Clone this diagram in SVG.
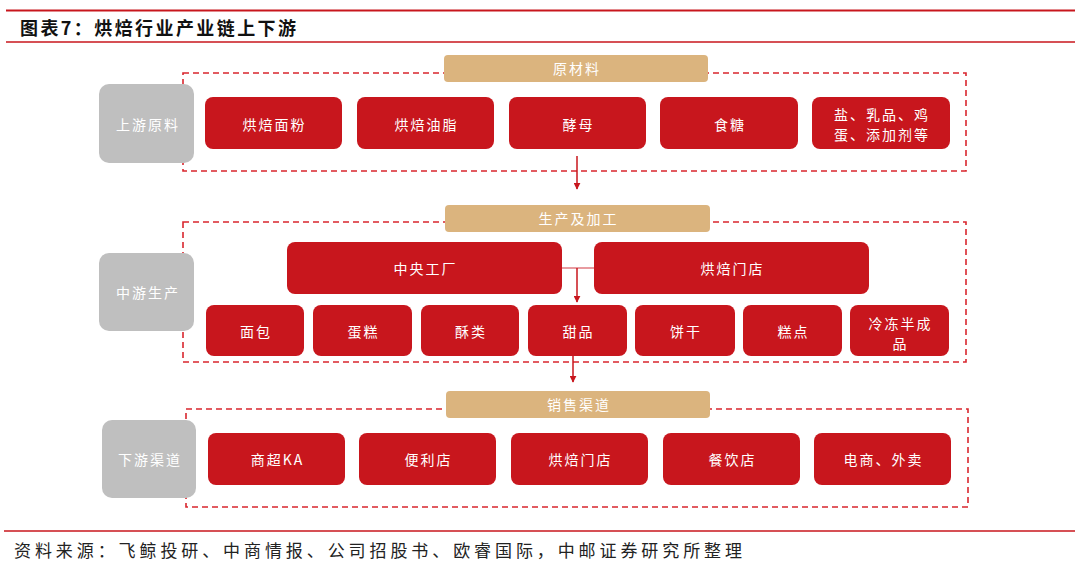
<svg xmlns="http://www.w3.org/2000/svg" width="1080" height="573" viewBox="0 0 1080 573">
<defs>
<style>
.rule{stroke:#C8161D;fill:none}
.frame{fill:none;stroke:#D9262E;stroke-width:1.6;stroke-dasharray:6 4}
.red{fill:#C8161D}
.gray{fill:#BFBFBF}
.tan{fill:#DBB47E}
.t{font-family:"Noto Sans CJK SC","Noto Sans",sans-serif;font-size:14px;fill:#FFFFFF;text-anchor:middle;letter-spacing:2px}
.conn{stroke:#C8161D;stroke-width:1.5;fill:none}
.title{font-family:"Noto Sans CJK SC","Noto Sans",sans-serif;font-size:18px;font-weight:bold;fill:#111111}
.src{font-family:"Noto Sans CJK SC","Noto Sans",sans-serif;font-size:17px;fill:#222222}
</style>
<marker id="ah" viewBox="0 0 10 10" refX="9" refY="5" markerWidth="7" markerHeight="7" markerUnits="userSpaceOnUse" orient="auto">
<path d="M0,0 L10,5 L0,10 z" fill="#C8161D"/>
</marker>
</defs>
<rect width="1080" height="573" fill="#FFFFFF"/>
<g id="header">
<line class="rule" x1="6" y1="10.5" x2="1075" y2="10.5" stroke-width="2.2"/>
<text class="title" x="20" y="34.5" textLength="276" lengthAdjust="spacing">图表7：烘焙行业产业链上下游</text>
<line class="rule" x1="6" y1="42" x2="1075" y2="42" stroke-width="1.6"/>
</g>
<g id="frames">
<rect class="frame" x="183" y="73" width="783" height="98"/>
<rect class="frame" x="183" y="222" width="783" height="140"/>
<rect class="frame" x="186" y="409" width="782" height="98"/>
</g>
<g id="connectors">
<line class="conn" x1="577" y1="156" x2="577" y2="189" marker-end="url(#ah)"/>
<line x1="562" y1="268" x2="594" y2="268" stroke="#E07A80" stroke-width="1.5"/>
<line class="conn" x1="577" y1="268" x2="577" y2="302" marker-end="url(#ah)"/>
<line class="conn" x1="573" y1="356" x2="573" y2="382" marker-end="url(#ah)"/>
</g>
<g id="upstream">
<g id="label-raw"><rect class="tan" x="444" y="55" width="264" height="27" rx="4"/><text class="t" x="577" y="74">原材料</text></g>
<g id="stage-up"><rect class="gray" x="99" y="84" width="95" height="79" rx="10"/><text class="t" x="148" y="130">上游原料</text></g>
<g id="u1"><rect class="red" x="205" y="97" width="137" height="52" rx="8"/><text class="t" x="274.5" y="129.5">烘焙面粉</text></g>
<g id="u2"><rect class="red" x="357" y="97" width="137" height="52" rx="8"/><text class="t" x="426.5" y="129.5">烘焙油脂</text></g>
<g id="u3"><rect class="red" x="509" y="97" width="137" height="52" rx="8"/><text class="t" x="578.5" y="129.5">酵母</text></g>
<g id="u4"><rect class="red" x="660" y="97" width="138" height="52" rx="8"/><text class="t" x="730" y="129.5">食糖</text></g>
<g id="u5"><rect class="red" x="812" y="97" width="138" height="52" rx="8"/><text class="t" x="882" y="120">盐、乳品、鸡</text><text class="t" x="882" y="140">蛋、添加剂等</text></g>
</g>
<g id="midstream">
<g id="label-prod"><rect class="tan" x="445" y="205" width="265" height="27" rx="4"/><text class="t" x="578.5" y="224">生产及加工</text></g>
<g id="stage-mid"><rect class="gray" x="99" y="253" width="95" height="78" rx="10"/><text class="t" x="148" y="298">中游生产</text></g>
<g id="m-factory"><rect class="red" x="287" y="242" width="275" height="52" rx="8"/><text class="t" x="425.5" y="274">中央工厂</text></g>
<g id="m-store"><rect class="red" x="594" y="242" width="275" height="52" rx="8"/><text class="t" x="732.5" y="274">烘焙门店</text></g>
<g id="p1"><rect class="red" x="206" y="305" width="98" height="51" rx="8"/><text class="t" x="256" y="337">面包</text></g>
<g id="p2"><rect class="red" x="313" y="305" width="99" height="51" rx="8"/><text class="t" x="363.5" y="337">蛋糕</text></g>
<g id="p3"><rect class="red" x="421" y="305" width="98" height="51" rx="8"/><text class="t" x="471" y="337">酥类</text></g>
<g id="p4"><rect class="red" x="528" y="305" width="99" height="51" rx="8"/><text class="t" x="578.5" y="337">甜品</text></g>
<g id="p5"><rect class="red" x="635" y="305" width="100" height="51" rx="8"/><text class="t" x="686" y="337">饼干</text></g>
<g id="p6"><rect class="red" x="743" y="305" width="99" height="51" rx="8"/><text class="t" x="793.5" y="337">糕点</text></g>
<g id="p7"><rect class="red" x="850" y="305" width="99" height="51" rx="8"/><text class="t" x="900.5" y="329">冷冻半成</text><text class="t" x="900.5" y="349">品</text></g>
</g>
<g id="downstream">
<g id="label-sales"><rect class="tan" x="446" y="391" width="264" height="27" rx="4"/><text class="t" x="579" y="410">销售渠道</text></g>
<g id="stage-down"><rect class="gray" x="102" y="420" width="94" height="78" rx="10"/><text class="t" x="150" y="465">下游渠道</text></g>
<g id="d1"><rect class="red" x="208" y="433" width="137" height="52" rx="8"/><text class="t" x="277.5" y="465">商超KA</text></g>
<g id="d2"><rect class="red" x="359" y="433" width="137" height="52" rx="8"/><text class="t" x="428.5" y="465">便利店</text></g>
<g id="d3"><rect class="red" x="511" y="433" width="137" height="52" rx="8"/><text class="t" x="580.5" y="465">烘焙门店</text></g>
<g id="d4"><rect class="red" x="663" y="433" width="137" height="52" rx="8"/><text class="t" x="732.5" y="465">餐饮店</text></g>
<g id="d5"><rect class="red" x="814" y="433" width="137" height="52" rx="8"/><text class="t" x="883.5" y="465">电商、外卖</text></g>
</g>
<g id="footer">
<line class="rule" x1="4" y1="531" x2="1075" y2="531" stroke-width="1.6"/>
<text class="src" x="14" y="557" textLength="728" lengthAdjust="spacing">资料来源：飞鲸投研、中商情报、公司招股书、欧睿国际，中邮证券研究所整理</text>
</g>
</svg>
